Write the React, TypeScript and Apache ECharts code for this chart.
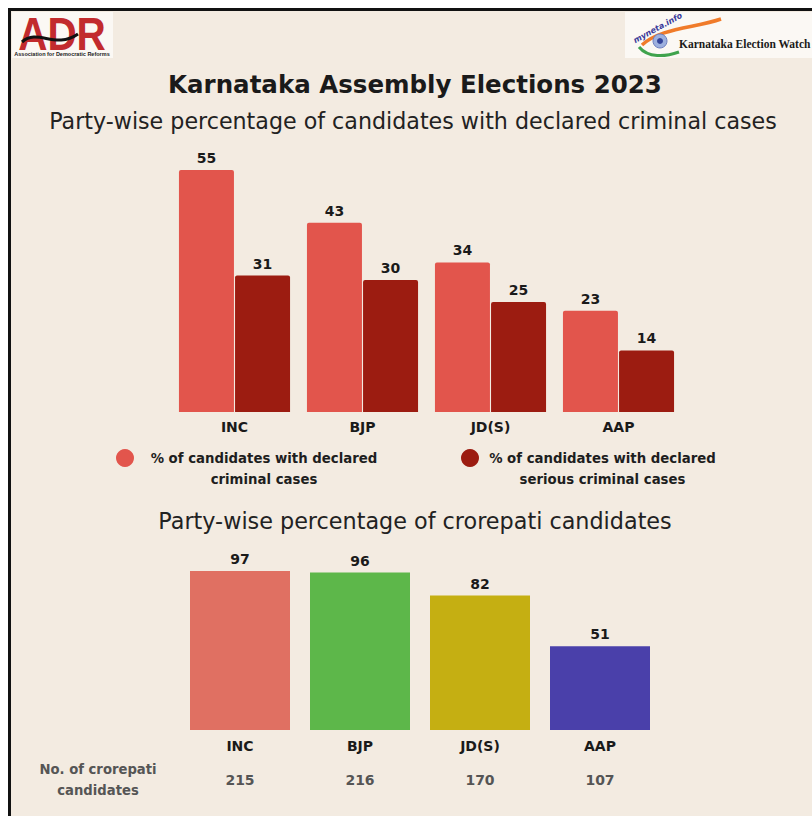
import React, { useEffect, useRef } from "react";
import * as echarts from "echarts";

const categories = ["INC", "BJP", "JD(S)", "AAP"];
const criminalPct = [55, 43, 34, 23];
const seriousPct = [31, 30, 25, 14];
const crorepatiPct = [97, 96, 82, 51];
const crorepatiCount = [215, 216, 170, 107];

const S1 = "% of candidates with declared criminal cases";
const S2 = "% of candidates with declared serious criminal cases";
const legendLines: Record<string, string[]> = {
  [S1]: ["% of candidates with declared", "criminal cases"],
  [S2]: ["% of candidates with declared", "serious criminal cases"],
};

const FONT = "'DejaVu Sans', 'Open Sans', sans-serif";
const barColors = ["#E07062", "#5DB74A", "#C5AF12", "#4A40AA"];

export default function App() {
  const ref = useRef<HTMLDivElement>(null);
  useEffect(() => {
    if (!ref.current) return;
    const chart = echarts.init(ref.current, undefined, { renderer: "svg" });
    const valueLabel = {
      show: true,
      position: "top",
      distance: 5,
      fontFamily: FONT,
      fontSize: 14,
      fontWeight: "bold",
      color: "#1a1a1a",
    };
    const legendFor = (name: string, left: number, w: number) => ({
      data: [name],
      left,
      top: 425.5,
      icon: "circle",
      itemWidth: 18,
      itemHeight: 18,
      selectedMode: false,
      formatter: (n: string) =>
        `{a| }\n{a|${legendLines[n][0]}}\n{a|${legendLines[n][1]}}`,
      textStyle: {
        rich: {
          a: {
            width: w,
            align: "center",
            fontSize: 13.3,
            fontWeight: "bold",
            lineHeight: 21,
            color: "#1e1e1e",
            fontFamily: FONT,
          },
        },
      },
    });
    chart.setOption({
      animation: false,
      backgroundColor: "#ffffff",
      legend: [legendFor(S1, 111, 250), legendFor(S2, 456, 237)],
      grid: [
        { left: 170.5, top: 148, width: 512, height: 264 },
        { left: 180, top: 566, width: 480, height: 164 },
      ],
      xAxis: [
        {
          type: "category",
          gridIndex: 0,
          data: categories,
          axisLine: { show: false },
          axisTick: { show: false },
          axisLabel: {
            margin: 8,
            fontFamily: FONT,
            fontSize: 14,
            fontWeight: "bold",
            color: "#1a1a1a",
          },
        },
        {
          type: "category",
          gridIndex: 1,
          data: categories,
          axisLine: { show: false },
          axisTick: { show: false },
          axisLabel: {
            margin: 7,
            formatter: (v: string, i: number) => `{a|${v}}\n{b|${crorepatiCount[i]}}`,
            rich: {
              a: { fontFamily: FONT, fontSize: 14, fontWeight: "bold", color: "#1a1a1a", lineHeight: 18 },
              b: { fontFamily: FONT, fontSize: 14, fontWeight: "bold", color: "#555555", lineHeight: 50 },
            },
          },
        },
      ],
      yAxis: [
        { type: "value", gridIndex: 0, min: 0, max: 60, show: false, splitLine: { show: false } },
        { type: "value", gridIndex: 1, min: 0, max: 100, show: false, splitLine: { show: false } },
      ],
      series: [
        {
          name: S1,
          type: "bar",
          xAxisIndex: 0,
          yAxisIndex: 0,
          data: criminalPct,
          barWidth: 55,
          barGap: "2%",
          itemStyle: { color: "#E2554C", borderRadius: [2, 2, 0, 0] },
          label: valueLabel,
        },
        {
          name: S2,
          type: "bar",
          xAxisIndex: 0,
          yAxisIndex: 0,
          data: seriousPct,
          barWidth: 55,
          barGap: "2%",
          itemStyle: { color: "#9C1C11", borderRadius: [2, 2, 0, 0] },
          label: valueLabel,
        },
        {
          name: "% of crorepati candidates",
          type: "bar",
          xAxisIndex: 1,
          yAxisIndex: 1,
          barWidth: 100,
          data: crorepatiPct.map((v, i) => ({ value: v, itemStyle: { color: barColors[i] } })),
          label: valueLabel,
        },
      ],
      graphic: [
        {
          type: "rect",
          z: -10,
          shape: { x: 9.5, y: 9.5, width: 900, height: 900 },
          style: { fill: "#F3EBE1", stroke: "#111111", lineWidth: 3 },
        },
        // ADR logo
        { type: "rect", shape: { x: 12, y: 12, width: 101, height: 46 }, style: { fill: "#fbf8f4" } },
        {
          type: "text",
          x: 62,
          y: 34,
          scaleX: 0.88,
          style: {
            text: "ADR",
            fontFamily: "'Liberation Sans', sans-serif",
            fontSize: 46,
            fontWeight: "bold",
            fill: "#C22B2E",
            align: "center",
            verticalAlign: "middle",
          },
        },
        {
          type: "bezierCurve",
          shape: { x1: 22, y1: 42, cpx1: 38, cpy1: 28, cpx2: 55, cpy2: 50, x2: 78, y2: 34 },
          style: { stroke: "#111111", lineWidth: 3, fill: "none" },
        },
        {
          type: "text",
          x: 62,
          y: 53.5,
          style: {
            text: "Association for Democratic Reforms",
            fontFamily: "'Liberation Sans', sans-serif",
            fontSize: 5.5,
            fontWeight: "bold",
            fill: "#222",
            align: "center",
            verticalAlign: "middle",
          },
        },
        // myneta logo
        { type: "rect", shape: { x: 625, y: 12, width: 190, height: 46 }, style: { fill: "#fbf8f4" } },
        {
          type: "bezierCurve",
          shape: { x1: 642, y1: 45, cpx1: 660, cpy1: 28, cpx2: 695, cpy2: 28, x2: 721, y2: 19 },
          style: { stroke: "#F07B2A", lineWidth: 3.5, fill: "none" },
        },
        {
          type: "bezierCurve",
          shape: { x1: 639, y1: 47, cpx1: 648, cpy1: 58, cpx2: 665, cpy2: 57, x2: 679, y2: 52 },
          style: { stroke: "#3FA34D", lineWidth: 3, fill: "none" },
        },
        { type: "circle", shape: { cx: 660, cy: 41, r: 7 }, style: { fill: "#9DB0DE", stroke: "#6d7fc0", lineWidth: 1 } },
        { type: "circle", shape: { cx: 660, cy: 41, r: 3 }, style: { fill: "#34449a" } },
        {
          type: "text",
          x: 634,
          y: 41,
          rotation: 0.5,
          style: {
            text: "myneta.info",
            fontFamily: "'DejaVu Sans', sans-serif",
            fontSize: 8,
            fontWeight: "bold",
            fontStyle: "italic",
            fill: "#3a3a9a",
            align: "left",
            verticalAlign: "middle",
          },
        },
        {
          type: "text",
          x: 679,
          y: 44,
          style: {
            text: "Karnataka Election Watch",
            fontFamily: "'Liberation Serif', serif",
            fontSize: 11.5,
            fontWeight: "bold",
            fill: "#1a1a1a",
            align: "left",
            verticalAlign: "middle",
          },
        },
        // titles
        {
          type: "text",
          x: 415,
          y: 84,
          style: {
            text: "Karnataka Assembly Elections 2023",
            fontFamily: FONT,
            fontSize: 24.5,
            fontWeight: "bold",
            fill: "#1a1a1a",
            align: "center",
            verticalAlign: "middle",
          },
        },
        {
          type: "text",
          x: 413,
          y: 121,
          style: {
            text: "Party-wise percentage of candidates with declared criminal cases",
            fontFamily: FONT,
            fontSize: 22.2,
            fill: "#222222",
            align: "center",
            verticalAlign: "middle",
          },
        },
        {
          type: "text",
          x: 415,
          y: 521,
          style: {
            text: "Party-wise percentage of crorepati candidates",
            fontFamily: FONT,
            fontSize: 22.3,
            fill: "#222222",
            align: "center",
            verticalAlign: "middle",
          },
        },
        {
          type: "text",
          x: 98,
          y: 780,
          style: {
            text: "No. of crorepati\ncandidates",
            fontFamily: FONT,
            fontSize: 13.2,
            fontWeight: "bold",
            lineHeight: 21,
            fill: "#555555",
            align: "center",
            verticalAlign: "middle",
          },
        },
      ],
    });
    return () => chart.dispose();
  }, []);
  return (
    <div
      ref={ref}
      style={{ position: "absolute", left: 0, top: 0, width: 812, height: 816 }}
    />
  );
}
